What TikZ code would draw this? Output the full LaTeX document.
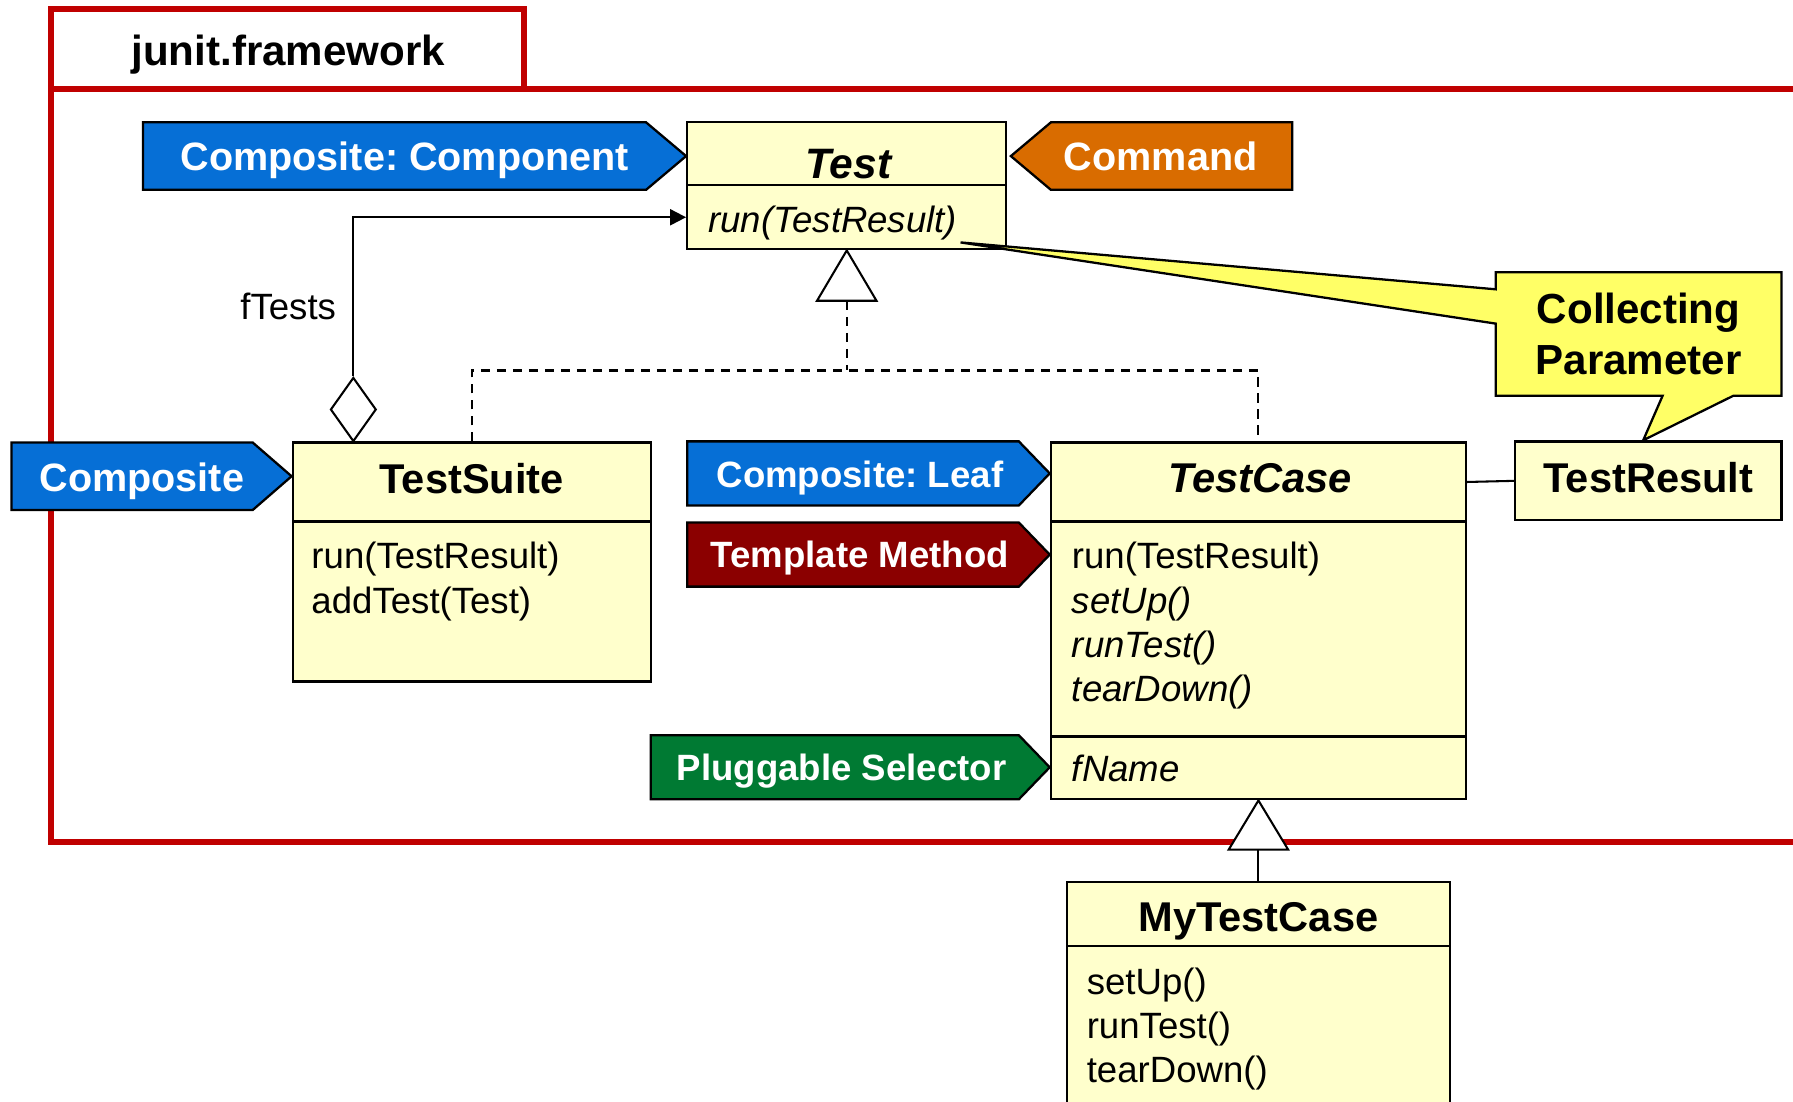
\documentclass[tikz,border=0pt]{standalone}
\usepackage{fontspec}
\setmainfont{Liberation Sans}
\usetikzlibrary{shapes.geometric,arrows.meta,fit,calc}
\definecolor{frame}{RGB}{192,0,0}
\definecolor{boxfill}{RGB}{255,255,204}
\definecolor{callfill}{RGB}{255,255,102}
\definecolor{pblue}{RGB}{6,111,214}
\definecolor{porange}{RGB}{217,108,0}
\definecolor{pred}{RGB}{139,0,0}
\definecolor{pgreen}{RGB}{0,122,51}
\frenchspacing
\begin{document}
\begin{tikzpicture}[x=0.5pt,y=-0.5pt,
  box/.style={draw=black, line width=1pt, fill=boxfill, inner sep=0pt},
  cname/.style={font=\fontsize{18.2}{22}\selectfont\bfseries, inner sep=0pt, anchor=base},
  meth/.style={font=\fontsize{16}{19}\selectfont, anchor=base west, inner sep=0pt},
  imeth/.style={meth, font=\fontsize{16}{19}\selectfont\itshape},
  tagshape/.style={draw=black, line width=1pt},
  tagtext/.style={text=white, inner sep=0pt, anchor=base, font=\fontsize{17.3}{20}\selectfont\bfseries},
  stagtext/.style={tagtext, font=\fontsize{16}{19}\selectfont\bfseries},
  conn/.style={line width=0.9pt, draw=black},
  gentri/.style={line width=0.9pt, draw=black, fill=white}]
\clip (0,0) rectangle (1568,963);
\fill[white] (0,0) rectangle (1568,963);

% package frame
\draw[frame, line width=2.6pt] (458,78) -- (458,8) -- (45,8) -- (45,736) -- (1620,736);
\draw[frame, line width=2.6pt] (45,78) -- (1620,78);
\node[cname, font=\fontsize{18.4}{22}\selectfont\bfseries, anchor=center] (pkg) at (252,48) {junit.framework};

% pattern tags
\draw[tagshape, fill=pblue] (125,107) -- (565,107) -- (600,136.5) -- (565,166) -- (125,166) -- cycle;
\node[tagtext] (tagcc) at (354,149.4) {Composite: Component};
\draw[tagshape, fill=porange] (884,136.5) -- (919,107) -- (1130,107) -- (1130,166) -- (919,166) -- cycle;
\node[tagtext] (tagcmd) at (1015,149.4) {Command};
\draw[tagshape, fill=pblue] (10,387) -- (221,387) -- (255,416.5) -- (221,446) -- (10,446) -- cycle;
\node[tagtext] (tagcomp) at (124,429.4) {Composite};
\draw[tagshape, fill=pblue] (601,386) -- (891,386) -- (918,414) -- (891,442) -- (601,442) -- cycle;
\node[stagtext] (tagleaf) at (752,426.5) {Composite: Leaf};
\draw[tagshape, fill=pred] (601,457) -- (891,457) -- (918,485) -- (891,513) -- (601,513) -- cycle;
\node[stagtext] (tagtm) at (752,496.5) {Template Method};
\draw[tagshape, fill=pgreen] (569,643) -- (891,643) -- (918,671) -- (891,699) -- (569,699) -- cycle;
\node[stagtext] (tagps) at (736,682.5) {Pluggable Selector};

% Test
\node[box, fit={(601,107) (880,162)}] (testh) {};
\node[cname, font=\fontsize{18.6}{22}\selectfont\bfseries\itshape] (testn) at (742,156) {Test};
\node[box, fit={(601,162) (880,218)}] (testm) {};
\node[imeth] (testrun) at (619,203.5) {run(TestResult)};

% TestSuite
\node[box, fit={(256,387) (569,456)}] (tsh) {};
\node[cname] (tsn) at (412.5,431.7) {TestSuite};
\node[box, fit={(256,456) (569,596)}] (tsm) {};
\node[meth] (ts1) at (272,497.4) {run(TestResult)};
\node[meth] (ts2) at (272,536.4) {addTest(Test)};

% TestCase
\node[box, fit={(919,387) (1282,456)}] (tch) {};
\node[cname, font=\fontsize{18.2}{22}\selectfont\bfseries\itshape] (tcn) at (1102,431) {TestCase};
\node[box, fit={(919,456) (1282,644)}] (tcm) {};
\node[meth] (tc1) at (937,497.4) {run(TestResult)};
\node[imeth] (tc2) at (937,536.4) {setUp()};
\node[imeth] (tc3) at (937,575.4) {runTest()};
\node[imeth] (tc4) at (937,613.4) {tearDown()};
\node[box, fit={(919,644) (1282,699)}] (tcf) {};
\node[imeth] (tc5) at (937,683.4) {fName};

% TestResult
\node[box, fit={(1325,386) (1558,455)}] (tr) {};
\node[cname] (trn) at (1441.5,430.5) {TestResult};

% MyTestCase
\node[box, fit={(933,771) (1268,827)}] (mh) {};
\node[cname] (mn) at (1100.5,815) {MyTestCase};
\node[box, fit={(933,827) (1268,1000)}] (mm) {};
\node[meth] (m1) at (950,869.5) {setUp()};
\node[meth] (m2) at (950,908) {runTest()};
\node[meth] (m3) at (950,946.5) {tearDown()};

% aggregation fTests
\node[diamond, draw=black, line width=0.9pt, fill=white, minimum width=20pt, minimum height=28pt, inner sep=0pt, anchor=south] (dia) at (309,387) {};
\draw[conn, -{Triangle[length=7pt,width=7pt]}] (dia.north) |- (testm.west);
\node[font=\fontsize{16}{19}\selectfont, inner sep=0pt] (ftests) at (252,268) {fTests};

% realization / generalization to Test
\draw[gentri] (testm.south) -- ++(26,44) coordinate (g1r) -- ++(-52,0) -- cycle;
\coordinate (g1) at ($(g1r)+(-26,0)$);
\draw[conn, dash pattern=on 4pt off 3pt] (g1) -- ++(0,61) coordinate (jn);
\draw[conn, dash pattern=on 4pt off 3pt] (tsh.north) |- (jn) -| (tch.north);

% TestCase -- TestResult
\draw[conn] (tch.east) -- (tr.west);

% MyTestCase generalization
\draw[gentri] (tcf.south) -- ++(26,43) coordinate (g2r) -- ++(-52,0) -- cycle;
\draw[conn] ($(g2r)+(-26,0)$) -- (mh.north);

% Collecting Parameter callout
\draw[line width=1pt, fill=callfill] (1308,238) -- (1558,238) -- (1558,346) -- (1516,346) -- (1437,385) -- (1454,346) -- (1308,346) -- (1308,283) -- (840,212) -- (1308,253) -- cycle;
\node[align=center, inner sep=0pt, font=\fontsize{18.4}{22.5}\selectfont\bfseries] (cp) at (1433,292) {Collecting\\Parameter};
\end{tikzpicture}
\end{document}
